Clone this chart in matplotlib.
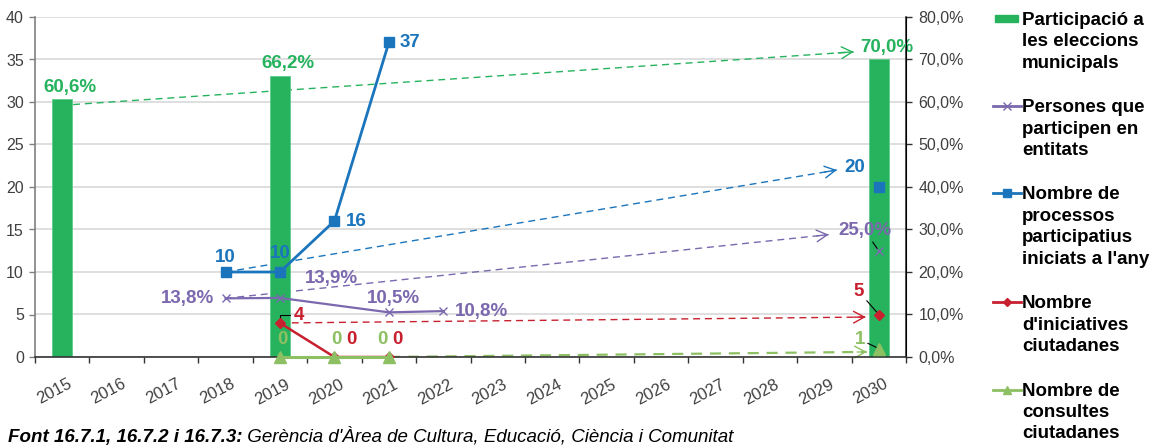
import matplotlib
matplotlib.use('Agg')
import matplotlib.pyplot as plt
import matplotlib.transforms as mtransforms
from matplotlib.lines import Line2D
from matplotlib.patches import Rectangle
from matplotlib.ticker import FuncFormatter, MultipleLocator

plt.rcParams['font.family'] = ['Liberation Sans', 'DejaVu Sans']

# ---- data ----
years = list(range(2015, 2031))
target_year = 2030

part_years = [2015, 2019, 2030]          # participació eleccions (%)
part_vals = [60.6, 66.2, 70.0]

ent_years = [2018, 2019, 2021, 2022]     # persones en entitats (%)
ent_vals = [13.8, 13.9, 10.5, 10.8]
ent_target = 25.0

proc_years = [2018, 2019, 2020, 2021]    # processos participatius
proc_vals = [10, 10, 16, 37]
proc_target = 20

inic_years = [2019, 2020, 2021]          # iniciatives ciutadanes
inic_vals = [4, 0, 0]
inic_target = 5

cons_years = [2019, 2020, 2021]          # consultes ciutadanes
cons_vals = [0, 0, 0]
cons_target = 1

legend_labels = [
    'Participació a\nles eleccions\nmunicipals',
    'Persones que\nparticipen en\nentitats',
    "Nombre de\nprocessos\nparticipatius\niniciats a l'any",
    "Nombre\nd'iniciatives\nciutadanes",
    'Nombre de\nconsultes\nciutadanes',
]
source_bold = 'Font 16.7.1, 16.7.2 i 16.7.3:'
source_rest = " Gerència d'Àrea de Cultura, Educació, Ciència i Comunitat"

GREEN = '#27b35e'
PURPLE = '#7b68ae'
BLUE = '#1b75bc'
RED = '#c8202f'
LGREEN = '#8dc063'
TICK = '#404040'

W, H = 1153, 448
PX = 0.72  # px -> points at 100 dpi
K = 0.8 / 40  # left axis units -> right axis units


def pct(v):
    return f'{v:.1f}%'.replace('.', ',')


fig = plt.figure(figsize=(W / 100, H / 100), dpi=100)
ax = fig.add_axes([35 / W, 1 - 357 / H, (906 - 35) / W, 340 / H])
ax2 = ax.twinx()
ax.set_zorder(ax2.get_zorder() + 1)
ax.patch.set_visible(False)

ax.set_xlim(2014.5, 2030.5)
ax.set_ylim(0, 40)
ax2.set_ylim(0, 0.8)

# grid on the bottom layer so bars cover it
ax2.yaxis.set_major_locator(MultipleLocator(0.1))
for g in ax2.get_yticks()[1:]:
    ax2.axhline(g, color='#d9d9d9', lw=1.2, zorder=0)

# dashed target arrows (behind bars)
arrows = [
    (GREEN, 1.0, (part_years[0] + 0.2, part_vals[0] / 100 - 0.012), (target_year - 0.46, part_vals[-1] / 100 + 0.018)),
    (BLUE, 1.0, (proc_years[0], proc_vals[0] * K), (target_year - 0.77, (proc_target + 2.0) * K)),
    (PURPLE, 1.0, (ent_years[0], ent_vals[0] / 100), (target_year - 0.92, ent_target / 100 + 0.038)),
    (RED, 1.0, (inic_years[0], inic_vals[0] * K), (target_year - 0.24, (inic_target - 0.3) * K)),
    (LGREEN, 1.6, (cons_years[-1], cons_vals[-1] * K), (target_year - 0.22, (cons_target - 0.4) * K)),
]
for col, lw, (x0, y0), (x1, y1) in arrows:
    ax2.plot([x0, x1], [y0, y1], color=col, lw=lw, ls=(0, (5, 3.5)), zorder=1)
    ax2.annotate('', xy=(x1, y1), xytext=(x1 - 0.02 * (x1 - x0), y1 - 0.02 * (y1 - y0)),
                 arrowprops=dict(arrowstyle='->,head_length=0.55,head_width=0.3', color=col,
                                 lw=1.0, shrinkA=0, shrinkB=0, mutation_scale=14), zorder=1)

# bars
ax2.bar(part_years, [v / 100 for v in part_vals], width=0.37, color=GREEN,
        edgecolor='#5ccb8a', lw=0.6, zorder=3)
for x, v in zip(part_years, part_vals):
    ax2.annotate(pct(v), (x, v / 100), xytext=(8 * PX, 12 * PX), textcoords='offset points',
                 ha='center', va='center', color=GREEN, fontsize=13.5, fontweight='bold', zorder=6)

# persones en entitats (right axis)
ax2.plot(ent_years, [v / 100 for v in ent_vals], color=PURPLE, lw=1.6, marker='x',
         ms=6, mew=1.0, zorder=4)
ax2.plot([target_year], [ent_target / 100], ls='none', color=PURPLE, marker='x', ms=6, mew=1.0, zorder=4)
ent_off = [(-11, 0, 'right'), (51, 19, 'center'), (5, 14, 'center'), (12, 0, 'left')]
for x, v, (dx, dy, ha) in zip(ent_years, ent_vals, ent_off):
    ax2.annotate(pct(v), (x, v / 100), xytext=(dx * PX, dy * PX), textcoords='offset points',
                 ha=ha, va='center', color=PURPLE, fontsize=13.5, fontweight='bold', zorder=6)
ax2.annotate(pct(ent_target), (target_year, ent_target / 100), xytext=(-14 * PX, 20 * PX),
             textcoords='offset points', ha='center', va='center', color=PURPLE,
             fontsize=13.5, fontweight='bold', zorder=6,
             arrowprops=dict(arrowstyle='-', color='black', lw=0.8, shrinkA=0, shrinkB=2))

# processos participatius (left axis)
ax.plot(proc_years, proc_vals, color=BLUE, lw=2.0, marker='s', ms=7, zorder=5)
ax.plot([target_year], [proc_target], ls='none', color=BLUE, marker='s', ms=7, zorder=5)
proc_off = [(0, 15), (0, 19), (22, 0), (21, 0)]
for x, v, (dx, dy) in zip(proc_years, proc_vals, proc_off):
    ax.annotate(str(v), (x, v), xytext=(dx * PX, dy * PX), textcoords='offset points',
                ha='center', va='center', color=BLUE, fontsize=13.5, fontweight='bold')
ax.annotate(str(proc_target), (target_year, proc_target), xytext=(-24 * PX, 19 * PX),
            textcoords='offset points', ha='center', va='center', color=BLUE,
            fontsize=13.5, fontweight='bold')

# iniciatives ciutadanes
ax.plot(inic_years, inic_vals, color=RED, lw=1.8, marker='D', ms=5, zorder=5)
ax.plot([target_year], [inic_target], ls='none', color=RED, marker='D', ms=5, zorder=5)
inic_off = [(19, 8), (17, 18), (9, 18)]
for i, (x, v, (dx, dy)) in enumerate(zip(inic_years, inic_vals, inic_off)):
    kw = {}
    if i == 0:
        kw['arrowprops'] = dict(arrowstyle='-', color='black', lw=0.8, shrinkA=1, shrinkB=3,
                                connectionstyle='angle,angleA=0,angleB=90,rad=0')
    ax.annotate(str(v), (x, v), xytext=(dx * PX, dy * PX), textcoords='offset points',
                ha='center', va='center', color=RED, fontsize=13.5, fontweight='bold', **kw)
ax.annotate(str(inic_target), (target_year, inic_target), xytext=(-20 * PX, 23 * PX),
            textcoords='offset points', ha='center', va='center', color=RED,
            fontsize=13.5, fontweight='bold',
            arrowprops=dict(arrowstyle='-', color='black', lw=0.8, shrinkA=0, shrinkB=2))

# consultes ciutadanes
ax.plot(cons_years, cons_vals, color=LGREEN, lw=2.2, marker='^', ms=8, zorder=5, clip_on=False)
ax.plot([target_year], [cons_target], ls='none', color=LGREEN, marker='^', ms=8, zorder=5)
cons_off = [(2, 18), (2, 18), (-6, 18)]
for x, v, (dx, dy) in zip(cons_years, cons_vals, cons_off):
    ax.annotate(str(v), (x, v), xytext=(dx * PX, dy * PX), textcoords='offset points',
                ha='center', va='center', color=LGREEN, fontsize=13.5, fontweight='bold')
ax.annotate(str(cons_target), (target_year, cons_target), xytext=(-19 * PX, 9 * PX),
            textcoords='offset points', ha='center', va='center', color=LGREEN,
            fontsize=13.5, fontweight='bold',
            arrowprops=dict(arrowstyle='-', color='black', lw=0.8, shrinkA=0, shrinkB=2))

# axes styling
ax.set_xticks(years)
ax.set_xticklabels([str(y) for y in years], rotation=28, ha='center')
ax.set_xticks([y + 0.5 for y in [2014] + years], minor=True)
ax.tick_params(axis='x', which='major', length=0, pad=14, labelsize=12, labelcolor=TICK)
ax.tick_params(axis='x', which='minor', length=4, width=1, color='#333333')
for lab in ax.get_xticklabels():
    lab.set_transform(lab.get_transform() + mtransforms.ScaledTranslation(-8 / 100, 0, fig.dpi_scale_trans))

ax.yaxis.set_major_locator(MultipleLocator(5))
ax.tick_params(axis='y', length=4, width=1, color='#808080', pad=4, labelsize=11.5, labelcolor=TICK)
ax2.yaxis.set_major_formatter(FuncFormatter(lambda v, p: pct(v * 100)))
ax2.tick_params(axis='y', length=4, width=1, color='#333333', pad=5, labelsize=11.5, labelcolor=TICK)

for a in (ax, ax2):
    a.spines['top'].set_visible(False)
ax.spines['left'].set_color('#808080')
ax.spines['left'].set_linewidth(1.2)
ax.spines['bottom'].set_color('#333333')
ax.spines['bottom'].set_linewidth(1.2)
ax2.spines['right'].set_color('#333333')
ax2.spines['right'].set_linewidth(1.2)
ax2.spines['left'].set_visible(False)
ax2.spines['bottom'].set_visible(False)

# legend (handle aligned to first line of each entry)
handles = [('bar', GREEN), ('x', PURPLE), ('s', BLUE), ('D', RED), ('^', LGREEN)]
y_px = 19
pitch = 21.8
for text, (mk, col) in zip(legend_labels, handles):
    yf = 1 - y_px / H
    if mk == 'bar':
        fig.add_artist(Rectangle((995 / W, yf - 3.5 / H), 23 / W, 7 / H, color=col,
                                 transform=fig.transFigure))
    else:
        fig.add_artist(Line2D([993 / W, 1021 / W], [yf, yf], color=col, lw=2,
                              transform=fig.transFigure))
        fig.add_artist(Line2D([1007 / W], [yf], color=col, marker=mk,
                              ms=6 if mk != 'D' else 4, mew=1, transform=fig.transFigure))
    fig.text(1022 / W, 1 - (y_px - 7) / H, text, ha='left', va='top', fontsize=13.5,
             fontweight='bold', color='black', linespacing=1.34)
    y_px += (text.count('\n') + 2) * pitch

# source
t1 = fig.text(8 / W, 1 - 437 / H, source_bold, fontsize=13.5, fontweight='bold',
              style='italic', va='center', ha='left')
ax.annotate(source_rest, xy=(1, 0), xycoords=t1, va='bottom', ha='left',
            fontsize=13.5, style='italic', annotation_clip=False)

fig.savefig('out.png', dpi=100)
